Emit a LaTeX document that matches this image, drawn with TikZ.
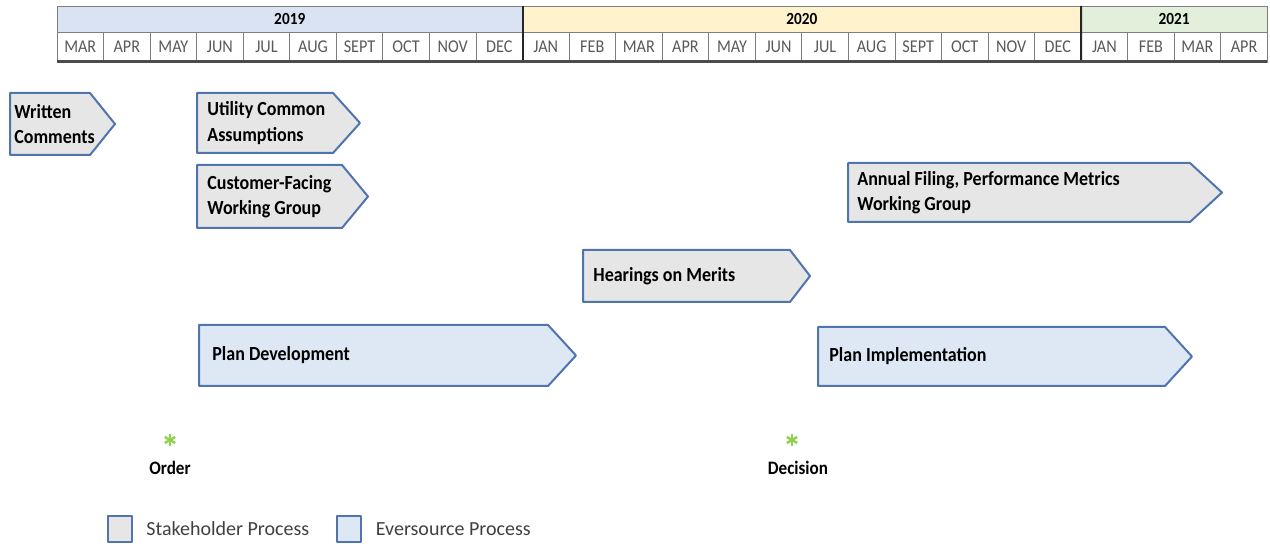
\documentclass[tikz,border=0pt]{standalone}
\usepackage{fontspec}
\setmainfont{Carlito}
\newfontfamily\narrowcal[FakeStretch=0.9]{Carlito}
\usetikzlibrary{positioning}
\definecolor{yearblue}{HTML}{DAE3F3}
\definecolor{yearyellow}{HTML}{FFF2CC}
\definecolor{yeargreen}{HTML}{E2EFDA}
\definecolor{gridgray}{HTML}{7F7F7F}
\definecolor{monthgray}{HTML}{595959}
\definecolor{stakegray}{HTML}{E6E6E6}
\definecolor{everblue}{HTML}{DEE8F5}
\definecolor{phaseblue}{HTML}{4F74AE}
\definecolor{stargreen}{HTML}{92D050}
\tikzset{
  yearcell/.style={rectangle,draw=gridgray,minimum height=13pt,inner sep=0pt,outer sep=0pt,font=\narrowcal\bfseries\fontsize{8.5}{9}\selectfont},
  monthcell/.style={rectangle,draw=gridgray,minimum width=23.275pt,minimum height=15pt,inner sep=0pt,outer sep=0pt,text=monthgray,font=\narrowcal\fontsize{9}{10}\selectfont},
  yearrule/.style={line width=1pt,draw=black!85},
  stakeholder/.style={draw=phaseblue,line width=1pt,fill=stakegray,line join=round},
  eversource/.style={draw=phaseblue,line width=1pt,fill=everblue,line join=round},
  phasetext/.style={anchor=west,align=left,inner sep=0pt,font=\narrowcal\bfseries\fontsize{10}{12.8}\selectfont},
  starline/.style={draw=stargreen,line width=1.2pt},
  milestone/.style={inner sep=0pt,font=\narrowcal\bfseries\fontsize{9.5}{11}\selectfont},
  legendbox/.style={rectangle,minimum width=12pt,minimum height=13pt,inner sep=0pt},
  legendtext/.style={inner sep=0pt,text=black!75,font=\fontsize{10}{12}\selectfont}
}
% style, name, left, top, end of body, tip, bottom, text indent, text
\newcommand{\phase}[9]{%
  \draw[#1] (#3,#4) -- (#5,#4) -- (#6,{(#4+#7)/2}) -- (#5,#7) -- (#3,#7) -- cycle;
  \node[phasetext] (#2) at ({#3+#8},{(#4+#7)/2}) {#9};
}
\begin{document}
\begin{tikzpicture}[x=0.5pt,y=-0.5pt]
  \useasboundingbox (0,0) rectangle (1270,544);

  % calendar header
  \node[yearcell,fill=yearblue,minimum width=232.75pt] (y2019) at (289.75,19) {2019};
  \node[yearcell,fill=yearyellow,minimum width=279.3pt] (y2020) at (801.8,19) {2020};
  \node[yearcell,fill=yeargreen,minimum width=93.1pt] (y2021) at (1174.2,19) {2021};
  \foreach \m [count=\i from 0] in {MAR,APR,MAY,JUN,JUL,AUG,SEPT,OCT,NOV,DEC,
      JAN,FEB,MAR,APR,MAY,JUN,JUL,AUG,SEPT,OCT,NOV,DEC,JAN,FEB,MAR,APR}
    \node[monthcell] (month\i) at ({57+46.55*\i+23.275},47) {\m};
  \draw[yearrule] (y2019.north east) -- (month9.south east);
  \draw[yearrule] (y2020.north east) -- (month21.south east);
  \draw[line width=1.5pt,draw=black!70] (month0.south west) -- (month25.south east);

  % phases
  \phase{stakeholder}{written}{10}{93}{90}{115}{155}{4}{Written\\Comments}
  \phase{stakeholder}{utility}{197}{93}{333}{360}{153}{10}{Utility Common\\Assumptions}
  \phase{stakeholder}{customer}{197}{165}{342}{368}{228}{10}{Customer-Facing\\Working Group}
  \phase{stakeholder}{annual}{848}{163}{1190}{1222}{222}{9}{Annual Filing, Performance Metrics\\Working Group}
  \phase{stakeholder}{hearings}{583}{250}{790}{810}{302}{10}{Hearings on Merits}
  \phase{eversource}{plandev}{199}{325}{548}{576}{386}{13}{Plan Development}
  \phase{eversource}{planimpl}{818}{327}{1165}{1192}{386}{11}{Plan Implementation}

  % milestones
  \coordinate (order star) at (170,440);
  \coordinate (decision star) at (792,440);
  \foreach \s in {order star,decision star}
    \foreach \a in {90,30,-30}
      \draw[starline] (\s) ++(\a:6) -- ++(\a+180:12);
  \node[milestone] (order) at (170,468) {Order};
  \node[milestone] (decision) at (798,468) {Decision};

  % legend
  \node[legendbox,stakeholder] (stake key) at (120,529) {};
  \node[legendtext,right=6.5pt of stake key] (stake label) {Stakeholder Process};
  \node[legendbox,eversource] (ever key) at (348.5,529) {};
  \node[legendtext,right=7pt of ever key] (ever label) {Eversource Process};
\end{tikzpicture}
\end{document}
